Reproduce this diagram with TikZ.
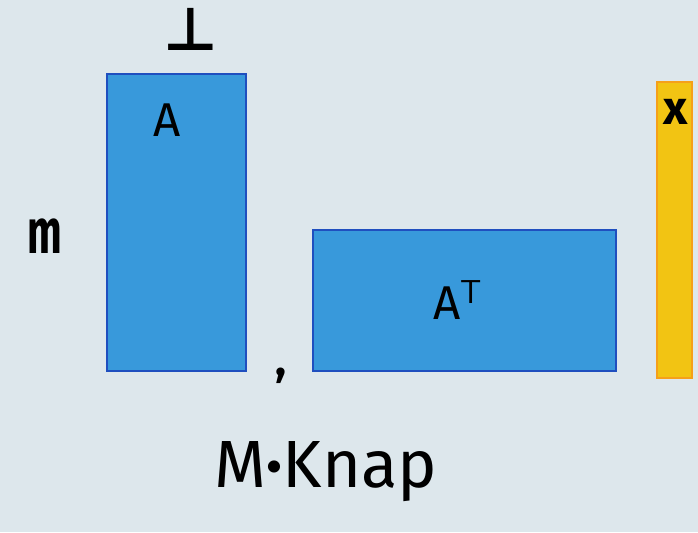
\documentclass[tikz,border=0pt]{standalone}
\usepackage{fontspec}
\setmainfont{Fira Sans}
\newfontfamily\symfont{DejaVu Sans}
\usetikzlibrary{positioning}
\definecolor{paper}{HTML}{DDE7EC}
\definecolor{matblue}{HTML}{3899DB}
\definecolor{matedge}{HTML}{1F4FBF}
\definecolor{vecfill}{HTML}{F2C413}
\definecolor{vecedge}{HTML}{F5A01A}

\begin{document}
\begin{tikzpicture}[x=0.02cm, y=-0.02cm,
  matrixbox/.style={draw=matedge, fill=matblue, line width=1.5pt},
  vectorbox/.style={draw=vecedge, fill=vecfill, line width=1.5pt},
  hand/.style={inner sep=0pt, text=black},
  every node/.style={inner sep=0pt}]
  % Paper
  \fill[paper] (0,0) rectangle (698,532);
  \useasboundingbox (0,0) rectangle (698,532);
  % Matrices and vector
  \draw[matrixbox] (107,74) rectangle (246,371);
  \draw[matrixbox] (313,230) rectangle (616,371);
  \draw[vectorbox] (657,82) rectangle (692,378);
  % Labels
  \node[hand, font=\fontsize{27}{27}\selectfont] (lblA) at (167,120) {A};
  \node[hand, font=\fontsize{27}{27}\selectfont] (lblAT) at (458,300) {A$^{\mathsf{T}}$};
  \node[hand, font=\fontsize{27}{27}\bfseries] (lblx) at (676,112) {x};
  \node[hand, font=\fontsize{36}{36}\bfseries] (lblm) at (45,236) {\scalebox{0.65}[1]{m}};
  \node[hand, font=\fontsize{34}{34}\symfont\bfseries] (lbld) at (191,29) {⊥};
  \node[hand, font=\fontsize{26}{26}\bfseries] (comma) at (281,376) {,};
  \node[hand, font=\fontsize{38}{38}\selectfont] (author) at (326,472) {M{\bfseries·}Knap};
\end{tikzpicture}
\end{document}
